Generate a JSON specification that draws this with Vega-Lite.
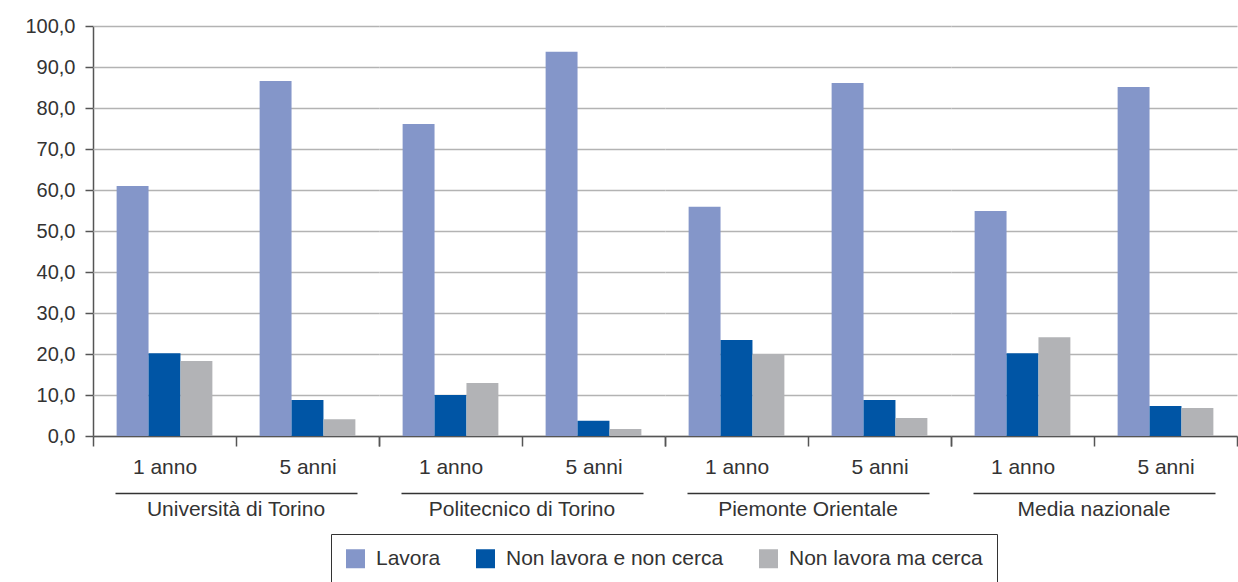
{
  "$schema": "https://vega.github.io/schema/vega-lite/v6.json",
  "padding": {"left": 5, "top": 16, "right": 0, "bottom": 0},
  "data": {"values": [
    {"ateneo": "Università di Torino", "periodo": "1 anno", "stato": "Lavora", "valore": 61.0},
    {"ateneo": "Università di Torino", "periodo": "1 anno", "stato": "Non lavora e non cerca", "valore": 20.2},
    {"ateneo": "Università di Torino", "periodo": "1 anno", "stato": "Non lavora ma cerca", "valore": 18.3},
    {"ateneo": "Università di Torino", "periodo": "5 anni", "stato": "Lavora", "valore": 86.6},
    {"ateneo": "Università di Torino", "periodo": "5 anni", "stato": "Non lavora e non cerca", "valore": 8.8},
    {"ateneo": "Università di Torino", "periodo": "5 anni", "stato": "Non lavora ma cerca", "valore": 4.1},
    {"ateneo": "Politecnico di Torino", "periodo": "1 anno", "stato": "Lavora", "valore": 76.1},
    {"ateneo": "Politecnico di Torino", "periodo": "1 anno", "stato": "Non lavora e non cerca", "valore": 10.0},
    {"ateneo": "Politecnico di Torino", "periodo": "1 anno", "stato": "Non lavora ma cerca", "valore": 12.9},
    {"ateneo": "Politecnico di Torino", "periodo": "5 anni", "stato": "Lavora", "valore": 93.7},
    {"ateneo": "Politecnico di Torino", "periodo": "5 anni", "stato": "Non lavora e non cerca", "valore": 3.7},
    {"ateneo": "Politecnico di Torino", "periodo": "5 anni", "stato": "Non lavora ma cerca", "valore": 1.7},
    {"ateneo": "Piemonte Orientale", "periodo": "1 anno", "stato": "Lavora", "valore": 55.9},
    {"ateneo": "Piemonte Orientale", "periodo": "1 anno", "stato": "Non lavora e non cerca", "valore": 23.4},
    {"ateneo": "Piemonte Orientale", "periodo": "1 anno", "stato": "Non lavora ma cerca", "valore": 20.0},
    {"ateneo": "Piemonte Orientale", "periodo": "5 anni", "stato": "Lavora", "valore": 86.1},
    {"ateneo": "Piemonte Orientale", "periodo": "5 anni", "stato": "Non lavora e non cerca", "valore": 8.8},
    {"ateneo": "Piemonte Orientale", "periodo": "5 anni", "stato": "Non lavora ma cerca", "valore": 4.4},
    {"ateneo": "Media nazionale", "periodo": "1 anno", "stato": "Lavora", "valore": 54.9},
    {"ateneo": "Media nazionale", "periodo": "1 anno", "stato": "Non lavora e non cerca", "valore": 20.2},
    {"ateneo": "Media nazionale", "periodo": "1 anno", "stato": "Non lavora ma cerca", "valore": 24.1},
    {"ateneo": "Media nazionale", "periodo": "5 anni", "stato": "Lavora", "valore": 85.1},
    {"ateneo": "Media nazionale", "periodo": "5 anni", "stato": "Non lavora e non cerca", "valore": 7.3},
    {"ateneo": "Media nazionale", "periodo": "5 anni", "stato": "Non lavora ma cerca", "valore": 6.8}
  ]},
  "facet": {
    "column": {
      "field": "ateneo", "type": "nominal",
      "sort": ["Università di Torino", "Politecnico di Torino", "Piemonte Orientale", "Media nazionale"],
      "header": {"title": null, "labels": false}
    }
  },
  "spacing": 0,
  "bounds": "flush",
  "resolve": {"scale": {"x": "independent"}},
  "spec": {
    "width": 286,
    "height": 410,
    "layer": [
      {
        "mark": {"type": "bar"},
        "encoding": {
          "x": {
            "field": "periodo", "type": "nominal", "sort": ["1 anno", "5 anni"],
            "scale": {"type": "band", "paddingInner": 0, "paddingOuter": 0},
            "axis": {
              "orient": "bottom", "title": null, "labelAngle": 0, "tickBand": "extent",
              "tickSize": 10, "labelPadding": 10, "labelFontSize": 21, "labelColor": "#333333",
              "labelLimit": 400,
              "domainColor": "#555555", "domainWidth": 1.5, "tickColor": "#555555", "tickWidth": 1.5,
              "grid": false
            }
          },
          "xOffset": {
            "field": "stato", "type": "nominal",
            "sort": ["Lavora", "Non lavora e non cerca", "Non lavora ma cerca"],
            "scale": {"type": "band", "range": [0, 143], "paddingInner": 0, "paddingOuter": 0.74}
          },
          "y": {
            "field": "valore", "type": "quantitative",
            "scale": {"domain": [0, 100], "nice": false},
            "axis": {
              "title": null, "values": [0, 10, 20, 30, 40, 50, 60, 70, 80, 90, 100],
              "labelExpr": "replace(format(datum.value, '.1f'), '.', ',')",
              "tickSize": 8, "labelPadding": 10, "labelFontSize": 20, "labelColor": "#333333",
              "domainColor": "#555555", "domainWidth": 1.5, "tickColor": "#555555", "tickWidth": 1.5,
              "gridColor": "#b3b3b3", "gridWidth": 1.5, "minExtent": 88, "maxExtent": 88
            }
          },
          "color": {
            "field": "stato", "type": "nominal",
            "scale": {
              "domain": ["Lavora", "Non lavora e non cerca", "Non lavora ma cerca"],
              "range": ["#8496c9", "#0055a5", "#b2b3b6"]
            },
            "legend": {
              "title": null, "orient": "none", "legendX": 238, "legendY": 508,
              "direction": "horizontal", "symbolType": "square", "symbolSize": 361,
              "symbolStrokeWidth": 0, "labelFontSize": 21, "labelColor": "#333333",
              "labelLimit": 400,
              "labelOffset": 10, "columnPadding": 34, "padding": 14,
              "strokeColor": "#333333", "fillColor": "#ffffff"
            }
          }
        }
      },
      {
        "mark": {"type": "point", "opacity": 0},
        "encoding": {
          "x": {
            "field": "ateneo", "type": "nominal",
            "scale": {"type": "band", "range": [22, 264]},
            "axis": {
              "orient": "bottom", "offset": 57, "title": null, "ticks": false, "labelAngle": 0,
              "labelPadding": 5, "domainColor": "#333333", "domainWidth": 1.5,
              "labelFontSize": 21, "labelColor": "#333333", "labelLimit": 400, "grid": false
            }
          }
        }
      }
    ],
    "resolve": {"scale": {"x": "independent"}}
  },
  "config": {
    "font": "Liberation Sans",
    "view": {"stroke": null}
  }
}
